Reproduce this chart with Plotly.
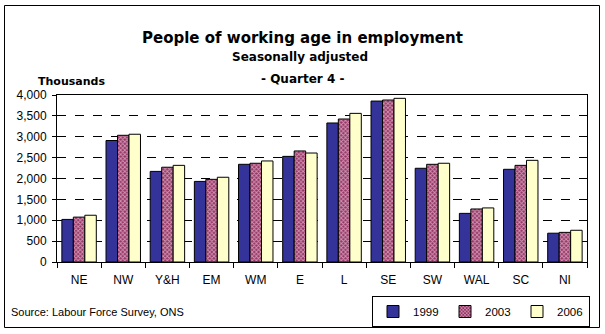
import plotly.graph_objects as go

# Regions and employment levels (thousands), Quarter 4
regions = ["NE", "NW", "Y&H", "EM", "WM", "E", "L", "SE", "SW", "WAL", "SC", "NI"]
emp_1999 = [1020, 2910, 2170, 1930, 2340, 2530, 3330, 3855, 2245, 1165, 2220, 690]
emp_2003 = [1075, 3035, 2270, 1980, 2365, 2660, 3425, 3880, 2340, 1270, 2315, 710]
emp_2006 = [1120, 3060, 2315, 2030, 2420, 2610, 3560, 3920, 2365, 1295, 2435, 760]
series_names = ["1999", "2003", "2006"]

W, H = 605, 334
FONT = "Liberation Sans, Arial, sans-serif"
TITLE_FONT = "DejaVu Sans, sans-serif"

fig = go.Figure()
line = dict(color="black", width=1)
fig.add_bar(x=regions, y=emp_1999, name=series_names[0],
            marker=dict(color="#333399", line=line))
fig.add_bar(x=regions, y=emp_2003, name=series_names[1],
            marker=dict(color="#993366", line=line,
                        pattern=dict(shape="x", fgcolor="white", bgcolor="#993366",
                                     size=3, solidity=0.5, fillmode="overlay")))
fig.add_bar(x=regions, y=emp_2006, name=series_names[2],
            marker=dict(color="#FFFFCC", line=line))

px_x = lambda v: v / W
px_y = lambda v: 1 - v / H

fig.update_layout(
    width=W, height=H,
    margin=dict(l=0, r=0, t=0, b=0, autoexpand=False),
    paper_bgcolor="white", plot_bgcolor="white",
    font=dict(family=FONT, size=11, color="black"),
    barmode="group", bargap=0.22, bargroupgap=0,
    showlegend=True,
    legend=dict(orientation="h", x=px_x(590), y=px_y(296), xanchor="right", yanchor="top",
                bordercolor="black", borderwidth=1, bgcolor="white",
                font=dict(size=11.5), itemwidth=30, tracegroupgap=0,
                entrywidth=27),
    xaxis=dict(domain=[px_x(57), px_x(587)], showline=True, linecolor="black", linewidth=1,
               mirror=True, ticks="outside", tickson="boundaries", ticklen=5,
               tickcolor="black", tickfont=dict(size=12), tickangle=0, showgrid=False,
               ticklabelstandoff=7),
    yaxis=dict(domain=[px_y(262), px_y(95)], range=[0, 4000], dtick=500, tickformat=",",
               showline=True, linecolor="black", linewidth=1, mirror=True,
               ticks="outside", ticklen=4, tickcolor="black", tickfont=dict(size=12),
               showgrid=True, gridcolor="black", griddash="dash", gridwidth=1,
               zeroline=False, ticklabelstandoff=3),
    shapes=[dict(type="rect", xref="paper", yref="paper",
                 x0=px_x(4.5), x1=px_x(599.5), y0=px_y(327.5), y1=px_y(5.5),
                 line=dict(color="black", width=1), fillcolor="rgba(0,0,0,0)")],
    annotations=[
        dict(text="<b>People of working age in employment</b>", x=px_x(302), y=px_y(27),
             xref="paper", yref="paper", showarrow=False,
             font=dict(family=TITLE_FONT, size=15)),
        dict(text="<b>Seasonally adjusted</b>", x=px_x(300), y=px_y(48),
             xref="paper", yref="paper", showarrow=False,
             font=dict(family=TITLE_FONT, size=12)),
        dict(text="<b>- Quarter 4 -</b>", x=px_x(302), y=px_y(70),
             xref="paper", yref="paper", showarrow=False,
             font=dict(family=TITLE_FONT, size=12)),
        dict(text="<b>Thousands</b>", x=px_x(36), y=px_y(73), xanchor="left",
             xref="paper", yref="paper", showarrow=False,
             font=dict(family=TITLE_FONT, size=11)),
        dict(text="Source: Labour Force Survey, ONS", x=px_x(9), y=px_y(320), xanchor="left",
             xref="paper", yref="paper", showarrow=False, font=dict(size=11)),
    ],
)

fig.write_html("out.html")
